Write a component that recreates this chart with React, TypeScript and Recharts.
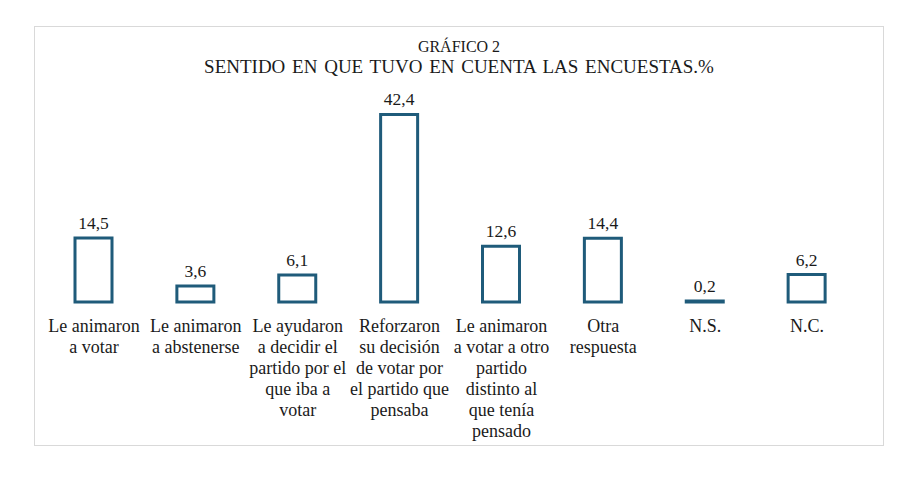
import { Bar, BarChart, LabelList, XAxis, YAxis } from "recharts";

const categories = [
  "Le animaron|a votar",
  "Le animaron|a abstenerse",
  "Le ayudaron|a decidir el|partido por el|que iba a|votar",
  "Reforzaron|su decisión|de votar por|el partido que|pensaba",
  "Le animaron|a votar a otro|partido|distinto al|que tenía|pensado",
  "Otra|respuesta",
  "N.S.",
  "N.C.",
];
const values = [14.5, 3.6, 6.1, 42.4, 12.6, 14.4, 0.2, 6.2];

const data = categories.map((c, i) => ({ name: c, value: values[i] }));

const font = "Liberation Serif";
const blue = "#1f5b7a";

function Tick(props: any) {
  const { x, y, payload } = props;
  const lines = String(payload.value).split("|");
  return (
    <text x={x} y={y} textAnchor="middle" style={{ fontFamily: font, fontSize: 18 }} fill="#1a1a1a">
      {lines.map((l, i) => (
        <tspan key={i} x={x} dy={i === 0 ? 22 : 21}>
          {l}
        </tspan>
      ))}
    </text>
  );
}

export default function App() {
  return (
    <div
      style={{
        position: "relative",
        marginLeft: 26,
        marginTop: 18,
        width: 848,
        height: 418,
        border: "1px solid #d9d9d9",
        background: "#fff",
        fontFamily: font,
        color: "#1a1a1a",
      }}
    >
      <div style={{ position: "absolute", top: 11, left: 0, width: "100%", textAlign: "center", fontSize: 16 }}>
        GRÁFICO 2
      </div>
      <div
        style={{
          position: "absolute",
          top: 29,
          left: 0,
          width: "100%",
          textAlign: "center",
          fontSize: 19,
          wordSpacing: 2,
        }}
      >
        SENTIDO EN QUE TUVO EN CUENTA LAS ENCUESTAS.%
      </div>
      <BarChart
        width={848}
        height={418}
        data={data}
        margin={{ top: 76, right: 25, left: 8, bottom: 0 }}
        barCategoryGap={0}
      >
        <YAxis hide domain={[0, 45]} />
        <XAxis
          dataKey="name"
          height={143}
          axisLine={false}
          tickLine={false}
          interval={0}
          tick={<Tick />}
        />
        <Bar dataKey="value" barSize={37} fill="#fff" stroke={blue} strokeWidth={3} isAnimationActive={false}>
          <LabelList
            dataKey="value"
            position="top"
            offset={9}
            formatter={(v: any) => String(v).replace(".", ",")}
            style={{ fontFamily: font, fontSize: 17.5, fill: "#1a1a1a" }}
          />
        </Bar>
      </BarChart>
    </div>
  );
}
